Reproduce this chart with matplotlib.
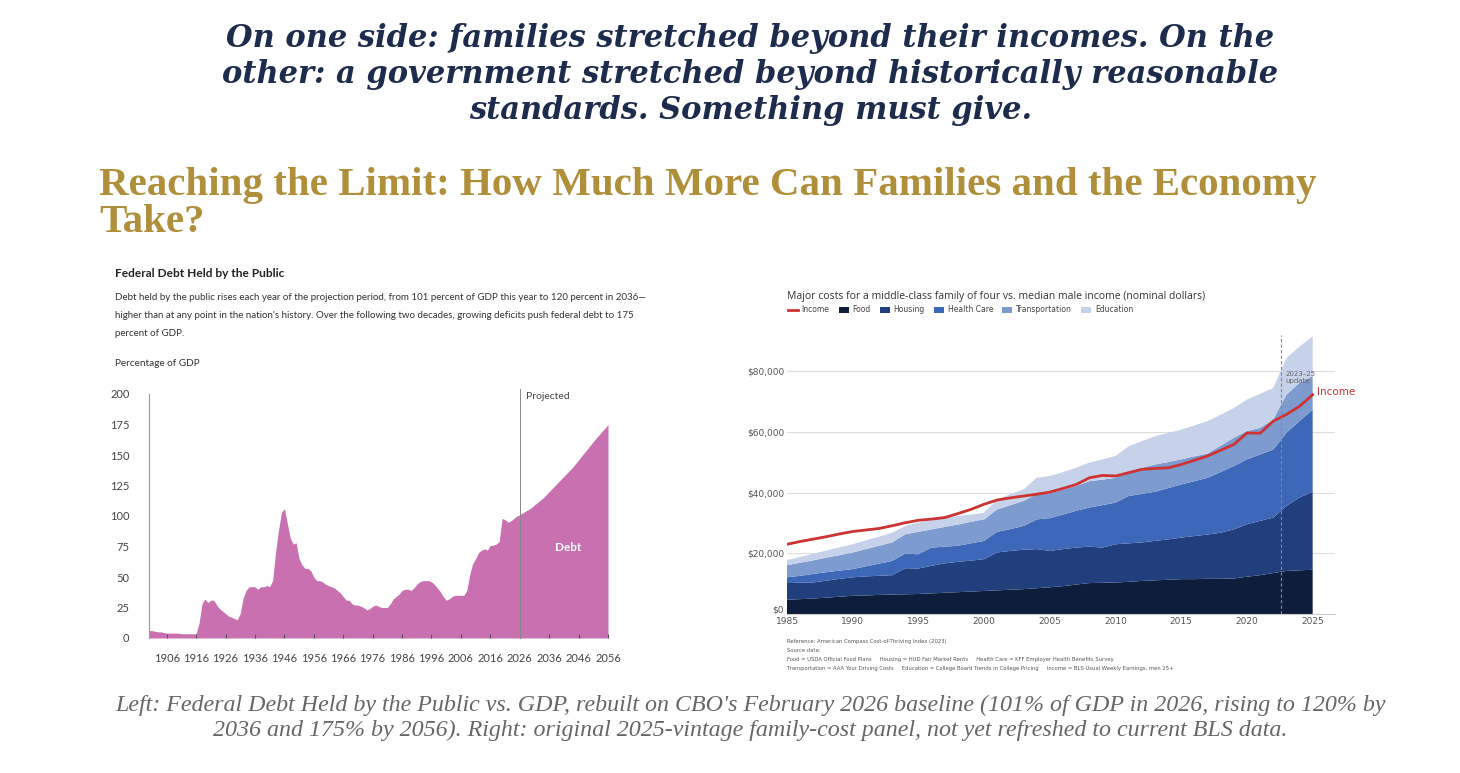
import numpy as np
import matplotlib.pyplot as plt
from matplotlib.patches import Patch
from matplotlib.lines import Line2D

# ---- left panel: federal debt held by the public, % of GDP ----
debt_years = list(range(1900, 2057))
debt_pct = [
    6, 6, 5.5, 5, 5, 4.5, 4, 4, 4, 4, 4, 3.5, 3.5, 3.5, 3.5, 3.5, 3.5,   # 1900-1916
    12, 28, 32, 29, 31, 31, 27, 24, 22, 20, 18, 17, 16, 15,            # 1917-1930
    20, 33, 39, 42, 42, 42, 40, 42, 42, 43, 42, 47, 70, 88, 103, 106,  # 1931-1946
    94, 82, 77, 78, 65, 60, 57, 57, 55, 50, 47, 47, 46, 44, 43, 42,    # 1947-1962
    41, 39, 37, 34, 31, 31, 28, 27, 27, 26, 25, 23, 24, 26, 27, 26,    # 1963-1978
    25, 25, 25, 28, 32, 34, 36, 39, 40, 40, 39, 41, 44, 46, 47, 47,    # 1979-1994
    47, 46, 44, 41, 38, 34, 31, 32, 34, 35, 35, 35, 35, 39, 52, 61,    # 1995-2010
    65, 70, 72, 73, 72, 76, 76, 77, 79, 98, 97, 95, 96, 98, 100, 101,  # 2011-2026
    102.5, 104, 105.5, 107, 109, 111, 113, 115, 117.5, 120,            # 2027-2036
    122.5, 125, 127.5, 130, 132.5, 135, 137.5, 140, 143, 146,          # 2037-2046
    149, 152, 155, 158, 161, 164, 166.5, 169.5, 172, 175,              # 2047-2056
]
debt_ticks = list(range(1906, 2057, 10))
debt_yticks = [0, 25, 50, 75, 100, 125, 150, 175, 200]
projection_start = 2026

# ---- right panel: family costs vs median male income (thousands of $) ----
cost_years = list(range(1985, 2026))
food = [4.7, 4.9, 5.1, 5.4, 5.7, 6.0, 6.1, 6.3, 6.4, 6.5, 6.6, 6.8, 7.0, 7.2, 7.4,
        7.6, 7.8, 8.0, 8.2, 8.5, 8.8, 9.2, 9.7, 10.2, 10.3, 10.4, 10.6, 10.9, 11.1,
        11.3, 11.5, 11.5, 11.6, 11.6, 11.7, 12.3, 12.8, 13.5, 14.2, 14.4, 14.6]
housing = [5.5, 5.4, 5.3, 5.6, 5.9, 6.1, 6.3, 6.3, 6.4, 8.6, 8.4, 9.1, 9.7, 10.0, 10.2,
           10.5, 12.5, 12.8, 13.0, 12.9, 12.0, 12.2, 12.2, 12.0, 11.6, 12.6, 12.7, 12.7,
           13.0, 13.3, 13.7, 14.2, 14.6, 15.2, 16.2, 17.3, 17.9, 18.3, 21.4, 24.0, 25.7]
health = [1.9, 2.3, 2.8, 2.8, 2.7, 2.7, 3.3, 4.0, 4.7, 4.8, 4.7, 6.0, 5.5, 5.3, 5.7,
          6.0, 6.8, 7.2, 7.8, 9.8, 10.8, 11.4, 12.1, 12.9, 14.0, 13.7, 15.6, 16.0, 16.2,
          16.9, 17.5, 18.1, 18.7, 20.0, 20.9, 21.4, 21.9, 22.4, 24.1, 25.2, 27.1]
transport = [4.0, 4.3, 4.5, 4.8, 5.1, 5.5, 5.7, 5.9, 6.1, 6.4, 7.4, 6.0, 6.5, 7.0, 7.1,
             7.1, 7.4, 7.9, 8.3, 8.3, 8.2, 8.2, 8.2, 8.7, 8.4, 8.2, 8.2, 8.6, 9.0, 8.6,
             8.3, 8.2, 8.0, 8.7, 9.3, 9.3, 8.8, 9.9, 12.6, 12.6, 11.0]
education = [1.7, 1.9, 2.2, 2.3, 2.6, 2.7, 2.9, 3.0, 3.2, 2.7, 3.0, 3.3, 3.0, 2.8, 2.4,
             2.2, 3.3, 3.6, 3.8, 5.4, 5.7, 5.8, 6.0, 6.1, 6.7, 7.2, 8.2, 8.8, 9.3, 9.6,
             9.8, 10.2, 10.7, 10.2, 9.8, 10.4, 11.2, 10.4, 12.1, 12.0, 13.1]
income = [23.0, 23.9, 24.7, 25.5, 26.4, 27.2, 27.7, 28.2, 29.1, 30.1, 30.9, 31.3, 31.8,
          33.1, 34.5, 36.2, 37.6, 38.3, 38.9, 39.5, 40.2, 41.4, 42.7, 44.9, 45.7, 45.5,
          46.6, 47.7, 48.0, 48.2, 49.3, 50.7, 52.1, 54.0, 55.9, 59.7, 59.6, 63.6, 65.8,
          68.5, 72.3]
cost_labels = ["Food", "Housing", "Health Care", "Transportation", "Education"]
cost_colors = ["#0f1d3c", "#213f7c", "#3d67b8", "#7e9bd0", "#c6d2e9"]
update_year = 2022.6

fig = plt.figure(figsize=(14.6, 7.73), dpi=100)
W, H = 1460, 773

def fx(px):
    return px / W

def fy(py):
    return 1 - py / H

# ---- slide text ----
navy = "#1d2b4c"
head = ["On one side: families stretched beyond their incomes. On the",
        "other: a government stretched beyond historically reasonable",
        "standards. Something must give."]
for i, line in enumerate(head):
    fig.text(0.514, fy(38 + 36.5 * i), line, ha="center", va="center", fontsize=22,
             family="DejaVu Serif", style="italic", weight="bold", color=navy)

gold = "#b08f3a"
fig.text(fx(99), fy(185), "Reaching the Limit: How Much More Can Families and the Economy",
         ha="left", va="center", fontsize=29.5, family="Liberation Serif", weight="bold", color=gold)
fig.text(fx(99), fy(222), "Take?", ha="left", va="center", fontsize=29.5,
         family="Liberation Serif", weight="bold", color=gold)

caption = ["Left: Federal Debt Held by the Public vs. GDP, rebuilt on CBO's February 2026 baseline (101% of GDP in 2026, rising to 120% by",
           "2036 and 175% by 2056). Right: original 2025-vintage family-cost panel, not yet refreshed to current BLS data."]
for i, line in enumerate(caption):
    fig.text(0.514, fy(705 + 25 * i), line, ha="center", va="center", fontsize=17.3,
             family="Liberation Serif", style="italic", color="#666666")

# ---- left chart ----
txt = "#333333"
fig.text(fx(115), fy(273), "Federal Debt Held by the Public", ha="left", va="center",
         fontsize=8.6, weight="bold", family="Lato", color="#222222")
desc = ["Debt held by the public rises each year of the projection period, from 101 percent of GDP this year to 120 percent in 2036\u2014",
        "higher than at any point in the nation's history. Over the following two decades, growing deficits push federal debt to 175",
        "percent of GDP."]
for i, line in enumerate(desc):
    fig.text(fx(115), fy(297 + 18 * i), line, ha="left", va="center", fontsize=7.0,
             family="Lato", color=txt)
fig.text(fx(115), fy(363), "Percentage of GDP", ha="left", va="center", fontsize=7.2,
         family="Lato", color=txt)

ax1 = fig.add_axes([fx(149), fy(638), fx(608 - 149), (638 - 394) / H])
ax1.fill_between(debt_years, debt_pct, 0, color="#c971b0", lw=0)
ax1.set_xlim(1900, 2056)
ax1.set_ylim(0, 200)
ax1.axvline(projection_start, color="#888888", lw=0.7, ymax=1.02, clip_on=False)
ax1.text(projection_start + 2, 198, "Projected", ha="left", va="center", fontsize=7.5,
         family="Lato", color="#444444")
ax1.text(2042.5, 74, "Debt", ha="center", va="center", fontsize=8.5, weight="bold",
         family="Lato", color="white")
ax1.set_xticks(debt_ticks)
ax1.set_yticks(debt_yticks)
ax1.tick_params(axis="x", direction="in", length=3, color="#555555", pad=11,
                labelsize=8, labelcolor="#444444")
ax1.tick_params(axis="y", length=0, pad=14, labelsize=8, labelcolor="#444444")
for lbl in ax1.get_xticklabels() + ax1.get_yticklabels():
    lbl.set_family("Lato")
for s in ["top", "right", "bottom"]:
    ax1.spines[s].set_visible(False)
ax1.spines["left"].set_color("#999999")
ax1.spines["left"].set_linewidth(0.8)

# ---- right chart ----
fig.text(fx(787), fy(296), "Major costs for a middle-class family of four vs. median male income (nominal dollars)",
         ha="left", va="center", fontsize=7.5, family="Open Sans", color="#333333")

ax2 = fig.add_axes([fx(787), fy(614), fx(1335 - 787), (614 - 335) / H])
stack = [np.array(v) * 1000 for v in (food, housing, health, transport, education)]
ax2.stackplot(cost_years, *stack, colors=cost_colors, lw=0, zorder=2)
ax2.plot(cost_years, np.array(income) * 1000, color="#cc3333", lw=2, zorder=3)
ax2.set_xlim(1985, 2026.7)
ax2.set_ylim(0, 92000)
ax2.set_yticks([0, 20000, 40000, 60000, 80000])
ax2.set_yticklabels(["$0", "$20,000", "$40,000", "$60,000", "$80,000"])
ax2.set_xticks(list(range(1985, 2026, 5)))
ax2.grid(axis="y", color="#dddddd", lw=0.8, zorder=0)
ax2.set_axisbelow(True)
ax2.tick_params(length=0, labelsize=6.5, labelcolor="#555555")
ax2.tick_params(axis="x", pad=2)
ax2.tick_params(axis="y", pad=2)
ax2.get_yticklabels()[0].set_va("bottom")
for s in ["top", "right", "left"]:
    ax2.spines[s].set_visible(False)
ax2.spines["bottom"].set_color("#cccccc")
ax2.axvline(update_year, color="#888888", lw=0.8, ls=(0, (3, 2)), zorder=4)
ax2.text(update_year + 0.3, 80000, "2023\u201325\nupdate", ha="left", va="top",
         fontsize=5, color="#666666", zorder=5)
ax2.text(2025.3, income[-1] * 1000 + 1000, "Income", ha="left", va="center",
         fontsize=7.5, color="#cc3333", zorder=5)

handles = [Line2D([0], [0], color="#cc3333", lw=2)] + \
          [Patch(facecolor=c, edgecolor="none") for c in cost_colors]
fig.legend(handles, ["Income"] + cost_labels, loc="center left",
           bbox_to_anchor=(fx(781), fy(310)), ncol=6, frameon=False, fontsize=5.5,
           handlelength=1.3, handleheight=0.7, handletextpad=0.5, columnspacing=1.2,
           labelcolor="#444444")

notes = ["Reference: American Compass Cost-of-Thriving Index (2023)",
         "Source data:",
         "Food = USDA Official Food Plans     Housing = HUD Fair Market Rents     Health Care = KFF Employer Health Benefits Survey",
         "Transportation = AAA Your Driving Costs     Education = College Board Trends in College Pricing     Income = BLS Usual Weekly Earnings, men 25+"]
for i, line in enumerate(notes):
    fig.text(fx(787), fy(641 + 9.2 * i), line, ha="left", va="center", fontsize=3.8,
             color="#555555")

fig.savefig("out.png", dpi=100)
